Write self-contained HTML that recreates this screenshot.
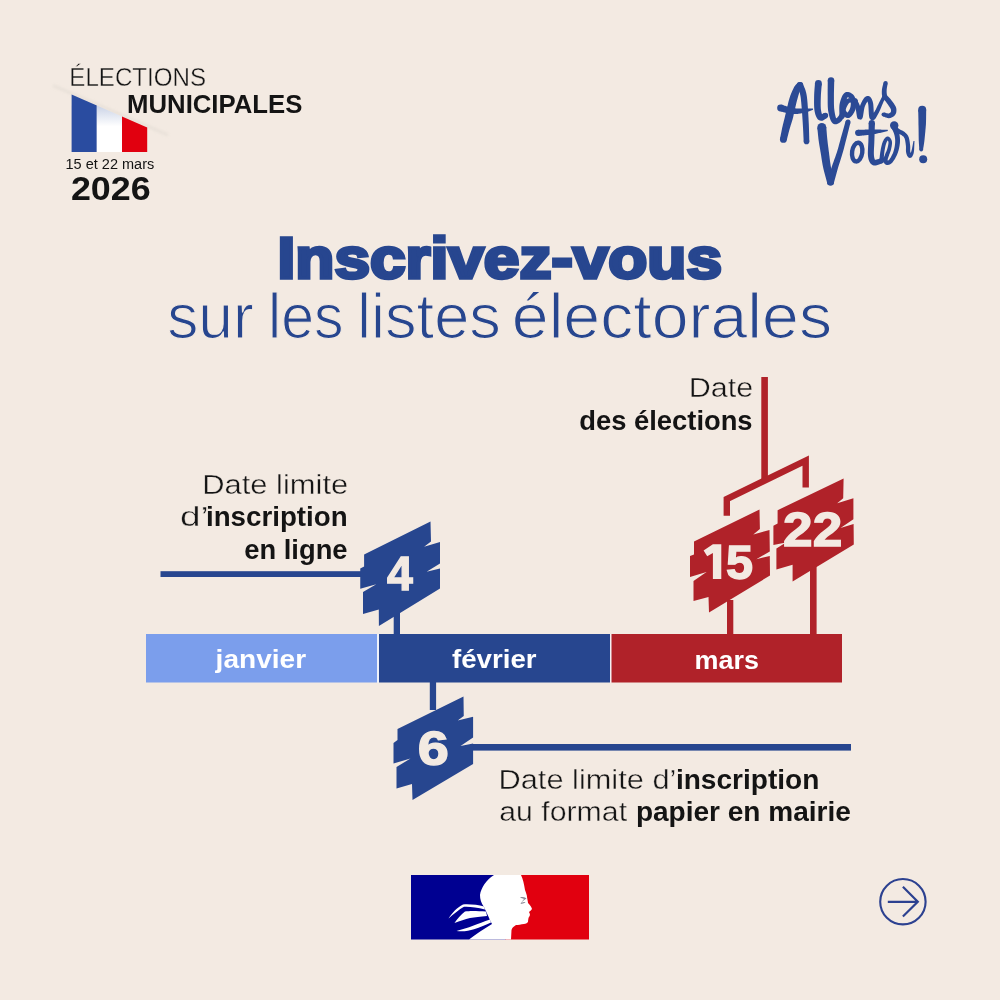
<!DOCTYPE html>
<html><head><meta charset="utf-8">
<style>
html,body{margin:0;padding:0;width:1000px;height:1000px;overflow:hidden;background:#f3eae2;}
svg{position:absolute;left:0;top:0;will-change:transform;}
text{font-family:"Liberation Sans",sans-serif;}
</style></head>
<body>
<svg width="1000" height="1000" viewBox="0 0 1000 1000">
<rect x="0" y="0" width="1000" height="1000" fill="#f3eae2"/>
<!-- flag -->
<defs><filter id="blur1" x="-20%" y="-50%" width="140%" height="200%"><feGaussianBlur stdDeviation="1.6"/></filter>
<linearGradient id="wg" x1="0" y1="0" x2="0" y2="1"><stop offset="0" stop-color="#c9d2e6"/><stop offset="0.45" stop-color="#ffffff"/><stop offset="1" stop-color="#ffffff"/></linearGradient></defs>
<line x1="53" y1="85.5" x2="168" y2="135" stroke="#d9d3cb" stroke-width="2.2" filter="url(#blur1)" opacity="0.55"/>
<polygon points="71.6,94.4 96.8,105.4 96.8,152 71.6,152" fill="#2a4ca0"/>
<polygon points="96.8,105.4 122,116.4 122,152 96.8,152" fill="url(#wg)"/>
<polygon points="122,116.4 147.2,127.4 147.2,152 122,152" fill="#e1000f"/>

<!-- lines -->
<rect x="160.5" y="571.2" width="205" height="5.8" fill="#27468f"/>
<rect x="470" y="744" width="381" height="6.6" fill="#27468f"/>
<rect x="393.7" y="600" width="6.3" height="36" fill="#27468f"/>
<rect x="429.8" y="680" width="6.3" height="30" fill="#27468f"/>
<rect x="727" y="600" width="6.3" height="36" fill="#b02229"/>
<rect x="810" y="560" width="6.6" height="76" fill="#b02229"/>
<rect x="761.3" y="377" width="6.6" height="104" fill="#b02229"/>
<polyline points="726.8,515.8 726.8,499 805.7,460.5 805.7,487.6" fill="none" stroke="#b02229" stroke-width="6.4" stroke-linejoin="miter"/>

<!-- bar -->
<rect x="376.5" y="634" width="3" height="48.5" fill="#eef1f8"/>
<rect x="609.5" y="634" width="2.5" height="48.5" fill="#f4f0f2"/>
<rect x="146" y="634" width="231" height="48.5" fill="#7b9eec"/>
<rect x="379" y="634" width="231" height="48.5" fill="#27468f"/>
<rect x="611.5" y="634" width="230.5" height="48.5" fill="#b02229"/>

<!-- signs -->
<polygon fill="#27468f" points="364.1,554.5 430.5,521.5 431,541.5 424.1,546.7 440,542 440,563.5 426.6,571.8 440,568.5 440,588.6 378.9,625.9 378.8,609.5 363,614 363,592 376.3,584.3 360.25,588.8 360.25,568.5 364.1,566.4"/>
<polygon fill="#27468f" points="397.5,729 463.5,696.5 463.75,716 457.7,720.6 473.1,716.8 473.1,737.4 460.5,745.9 473.1,743.5 473.1,764 412.5,800 412,784 396.5,788.5 396.5,767 410.5,758.5 393.5,763.5 393.5,743 397.5,740"/>
<polygon fill="#b02229" points="694,541.5 759.5,509.5 759.9,529 753.3,534.4 769.5,530 769.8,551.5 756.3,559.2 769.8,556 770,575.5 709,612.5 708.5,597 693.5,601 693.5,581 706.5,572 690,577 690,556 694,554.5"/>
<polygon fill="#b02229" points="777.6,510.2 843.6,478.4 843.2,498.3 837.2,503.2 853.4,498.3 853.4,519.2 840.5,528 853.6,524.1 853.8,544.4 792.6,581.6 792.6,564.8 776.4,569.6 776.4,548.6 786,542.6 773.4,545 773.4,525.8 777.6,523.4"/>

<path fill="#f3eae2" d="M712.9,544.2 L721.3,544.2 L721.3,579 L712.9,579 L712.9,553 L707.2,556.2 L703.6,550.5 Z"/>
<!-- marianne -->
<rect x="411" y="875" width="95" height="64.5" fill="#000091"/>
<rect x="505" y="875" width="84" height="64.5" fill="#e1000f"/>
<path fill="#ffffff" d="M494,875 L521,875 C523,879 524,884 525,890 C526,893 527,895 527,897 C527.5,900 528,902 528,903 C530,905 531.5,907 532,909 C531,910.5 529.5,911.5 529,912 C529.5,913 530,914 530,915 C529.5,916.5 528.5,917.5 528.5,918 C528.2,919.5 528,921 528,922 C527,923 525.5,924 524,924 C521,924.5 518,925 516,925 C513.5,926.5 512,928 511.5,930 L511,939.5 L469,939.5 C476,934 484,929 492,924 C489,918 486,911 484,907 C481,903 480,899 480,895 C481,888 486,880 494,875 Z"/>
<path fill="#ffffff" d="M484,906.5 C478,905 470,904 463,904.5 C457,907.5 452,913 448.5,918.5 C454,914 459,909.5 464,906.8 C470,906.5 477,907.5 485,909.5 Z"/>
<path fill="#ffffff" d="M486,911.5 C478,911 470,910.5 465,911.5 C461,914.5 457,919 454.5,923 C460,921 465,919 470,918 C475,917 480,917 487,916 Z"/>
<path fill="#ffffff" d="M490,919.5 C484,921.5 478,924 473,925.8 C468,927.8 462,929.5 456.5,931 C463,931.8 469,930.8 474,929.2 C480,927.2 486,925 491,922.5 Z"/>
<path fill="#8a8a96" d="M520,897 C522.5,896.8 525,897.2 526.5,898.5 C525,899.5 523,900.5 521.5,902.8 C523,902 524.5,901.8 525.5,902.2 C524,903.2 522,903.8 520.5,904 C521.5,902 523,900 524,899 C522.5,898.5 521,898 520,897 Z"/>
<!-- arrow -->
<circle cx="902.9" cy="901.7" r="22.7" fill="none" stroke="#2c4190" stroke-width="2.1"/>
<path d="M887.8 901.8 H917.5 M902.9 886.8 L917.8 901.8 L902.9 916.5" fill="none" stroke="#2c4190" stroke-width="2.2"/>

<g fill="#2b4a95" stroke="none">
<path d="M786.75,140.16 L786.99,139.21 L787.23,138.25 L787.47,137.30 L787.71,136.35 L787.95,135.40 L788.18,134.46 L788.42,133.52 L788.66,132.58 L788.90,131.65 L789.14,130.73 L789.39,129.82 L789.64,128.91 L789.89,128.04 L790.13,127.21 L790.38,126.39 L790.64,125.59 L790.89,124.78 L791.16,123.95 L791.43,123.10 L791.71,122.20 L792.00,121.25 L792.30,120.24 L792.61,119.16 L792.94,117.99 L793.25,116.70 L793.57,115.30 L793.90,113.83 L794.25,112.29 L794.59,110.71 L794.95,109.11 L795.30,107.53 L795.66,105.97 L796.01,104.48 L796.35,103.06 L796.67,101.75 L796.99,100.57 L797.27,99.47 L797.55,98.42 L797.82,97.41 L798.10,96.45 L798.37,95.54 L798.63,94.68 L798.90,93.87 L799.15,93.10 L799.40,92.37 L799.65,91.69 L799.88,91.05 L800.10,90.48 L800.30,90.02 L800.46,89.68 L800.60,89.40 L800.73,89.18 L800.85,88.98 L800.98,88.79 L801.14,88.59 L801.34,88.35 L801.58,88.06 L801.87,87.72 L802.18,87.32 L802.45,86.94 L797.55,83.06 L797.33,83.30 L797.15,83.46 L796.95,83.63 L796.72,83.84 L796.44,84.09 L796.12,84.39 L795.76,84.76 L795.39,85.19 L795.01,85.68 L794.63,86.24 L794.26,86.86 L793.90,87.52 L793.54,88.20 L793.19,88.89 L792.83,89.64 L792.46,90.42 L792.09,91.25 L791.72,92.13 L791.34,93.06 L790.96,94.03 L790.57,95.05 L790.19,96.12 L789.80,97.24 L789.41,98.43 L789.05,99.72 L788.67,101.11 L788.29,102.59 L787.91,104.14 L787.53,105.72 L787.15,107.32 L786.78,108.92 L786.41,110.49 L786.05,112.01 L785.70,113.45 L785.37,114.79 L785.06,116.01 L784.80,117.13 L784.55,118.17 L784.31,119.14 L784.08,120.07 L783.86,120.95 L783.64,121.81 L783.43,122.65 L783.22,123.50 L783.00,124.35 L782.79,125.23 L782.58,126.14 L782.36,127.09 L782.15,128.06 L781.95,129.02 L781.75,129.99 L781.55,130.96 L781.36,131.93 L781.17,132.89 L780.98,133.86 L780.79,134.82 L780.61,135.78 L780.42,136.74 L780.24,137.69 L780.05,138.64 Z"/><circle cx="783.40" cy="139.40" r="3.44"/><circle cx="800.00" cy="85.00" r="3.12"/>
<path d="M797.08,86.13 L797.35,86.81 L797.63,87.50 L797.91,88.17 L798.18,88.81 L798.45,89.45 L798.71,90.06 L798.96,90.67 L799.19,91.28 L799.41,91.88 L799.61,92.49 L799.80,93.11 L799.97,93.76 L800.13,94.43 L800.27,95.07 L800.39,95.69 L800.51,96.31 L800.61,96.94 L800.70,97.61 L800.80,98.33 L800.89,99.12 L800.98,100.00 L801.07,100.97 L801.18,102.06 L801.29,103.28 L801.42,104.63 L801.55,106.14 L801.68,107.79 L801.82,109.53 L801.95,111.35 L802.09,113.23 L802.22,115.13 L802.35,117.04 L802.47,118.92 L802.59,120.75 L802.70,122.51 L802.80,124.16 L802.90,125.73 L802.99,127.26 L803.07,128.75 L803.15,130.21 L803.22,131.65 L803.29,133.07 L803.35,134.49 L803.42,135.90 L803.48,137.31 L803.55,138.73 L803.62,140.16 L803.69,141.61 L809.31,141.39 L809.27,139.95 L809.23,138.52 L809.20,137.11 L809.17,135.70 L809.13,134.28 L809.10,132.86 L809.06,131.43 L809.02,129.97 L808.97,128.49 L808.92,126.98 L808.86,125.43 L808.80,123.84 L808.71,122.17 L808.62,120.40 L808.53,118.56 L808.42,116.67 L808.31,114.75 L808.20,112.83 L808.08,110.94 L807.97,109.10 L807.85,107.33 L807.74,105.66 L807.62,104.12 L807.51,102.72 L807.40,101.49 L807.30,100.38 L807.20,99.36 L807.10,98.44 L807.00,97.58 L806.90,96.77 L806.79,96.00 L806.67,95.25 L806.53,94.51 L806.38,93.78 L806.22,93.03 L806.03,92.24 L805.81,91.42 L805.57,90.61 L805.31,89.83 L805.05,89.09 L804.77,88.37 L804.49,87.69 L804.21,87.02 L803.94,86.37 L803.67,85.74 L803.41,85.12 L803.16,84.51 L802.92,83.87 Z"/><circle cx="800.00" cy="85.00" r="3.12"/><circle cx="806.50" cy="141.50" r="2.81"/>
<path d="M779.64,111.20 L780.25,111.35 L780.85,111.50 L781.45,111.66 L782.06,111.82 L782.68,111.98 L783.32,112.15 L783.96,112.31 L784.61,112.47 L785.27,112.63 L785.95,112.78 L786.64,112.92 L787.33,113.05 L788.00,113.17 L788.66,113.28 L789.33,113.39 L790.01,113.50 L790.71,113.61 L791.41,113.70 L792.13,113.79 L792.86,113.87 L793.61,113.93 L794.36,113.98 L795.14,114.00 L795.92,114.01 L796.72,113.97 L797.52,113.91 L798.33,113.83 L799.13,113.73 L799.93,113.62 L800.73,113.50 L801.52,113.37 L802.30,113.23 L803.07,113.09 L803.82,112.95 L804.55,112.81 L805.26,112.67 L805.97,112.45 L806.66,112.23 L807.34,111.99 L808.01,111.76 L808.66,111.52 L809.30,111.27 L809.94,111.03 L810.57,110.78 L811.20,110.54 L811.83,110.30 L812.46,110.05 L813.10,109.82 L812.90,108.58 L812.21,108.57 L811.53,108.55 L810.85,108.54 L810.17,108.53 L809.49,108.52 L808.82,108.50 L808.15,108.49 L807.47,108.47 L806.80,108.44 L806.12,108.41 L805.43,108.37 L804.74,108.33 L804.02,108.36 L803.28,108.40 L802.53,108.43 L801.77,108.47 L801.02,108.50 L800.27,108.52 L799.53,108.53 L798.79,108.53 L798.08,108.52 L797.39,108.49 L796.72,108.45 L796.08,108.39 L795.46,108.34 L794.84,108.27 L794.22,108.18 L793.61,108.08 L793.00,107.97 L792.39,107.85 L791.77,107.71 L791.16,107.57 L790.54,107.42 L789.92,107.27 L789.29,107.11 L788.67,106.95 L788.08,106.79 L787.51,106.62 L786.94,106.45 L786.37,106.26 L785.79,106.07 L785.21,105.86 L784.62,105.66 L784.02,105.45 L783.42,105.23 L782.80,105.02 L782.18,104.80 L781.56,104.60 Z"/><circle cx="780.60" cy="107.90" r="3.44"/>
<path d="M814.97,83.14 L814.90,84.18 L814.82,85.20 L814.74,86.22 L814.66,87.25 L814.57,88.29 L814.49,89.33 L814.41,90.39 L814.33,91.46 L814.26,92.54 L814.21,93.64 L814.16,94.77 L814.13,95.90 L814.11,97.05 L814.09,98.25 L814.07,99.49 L814.06,100.75 L814.05,102.04 L814.06,103.32 L814.07,104.60 L814.11,105.85 L814.16,107.07 L814.24,108.25 L814.34,109.38 L814.48,110.44 L814.64,111.42 L814.82,112.37 L815.03,113.28 L815.27,114.17 L815.52,115.02 L815.81,115.83 L816.13,116.62 L816.49,117.36 L816.89,118.08 L817.37,118.76 L817.95,119.42 L818.73,120.08 L819.87,120.62 L821.13,120.80 L822.20,120.67 L823.05,120.39 L823.74,120.05 L824.33,119.69 L824.84,119.35 L825.29,119.02 L825.68,118.73 L826.01,118.49 L826.27,118.32 L826.56,118.16 L824.24,113.04 L823.70,113.26 L823.10,113.56 L822.57,113.86 L822.09,114.14 L821.67,114.39 L821.31,114.58 L821.04,114.70 L820.90,114.74 L820.95,114.70 L821.26,114.66 L821.80,114.73 L822.27,114.92 L822.42,115.03 L822.39,114.97 L822.29,114.80 L822.14,114.51 L821.98,114.12 L821.80,113.65 L821.63,113.11 L821.46,112.49 L821.30,111.82 L821.16,111.10 L821.03,110.35 L820.92,109.56 L820.83,108.73 L820.77,107.80 L820.72,106.77 L820.69,105.67 L820.68,104.51 L820.68,103.31 L820.70,102.09 L820.72,100.85 L820.75,99.62 L820.79,98.41 L820.83,97.23 L820.87,96.10 L820.91,95.03 L820.97,93.99 L821.03,92.96 L821.11,91.94 L821.19,90.92 L821.28,89.89 L821.37,88.87 L821.46,87.85 L821.56,86.81 L821.65,85.77 L821.74,84.71 L821.83,83.66 Z"/><circle cx="818.40" cy="83.40" r="3.44"/><circle cx="825.40" cy="115.60" r="2.81"/>
<path d="M827.75,80.35 L827.74,81.66 L827.73,82.96 L827.72,84.28 L827.70,85.60 L827.69,86.92 L827.68,88.24 L827.66,89.56 L827.66,90.88 L827.65,92.18 L827.65,93.48 L827.66,94.76 L827.68,96.01 L827.68,97.24 L827.68,98.46 L827.68,99.69 L827.68,100.92 L827.68,102.14 L827.69,103.36 L827.71,104.57 L827.74,105.77 L827.80,106.95 L827.87,108.12 L827.97,109.27 L828.10,110.40 L828.28,111.50 L828.47,112.60 L828.70,113.69 L828.94,114.78 L829.19,115.84 L829.47,116.88 L829.76,117.87 L830.07,118.82 L830.40,119.71 L830.75,120.54 L831.14,121.32 L831.59,122.07 L832.17,122.80 L832.90,123.45 L833.77,123.95 L834.71,124.23 L835.61,124.29 L836.41,124.21 L837.10,124.03 L837.69,123.80 L838.19,123.56 L838.63,123.32 L839.01,123.10 L839.43,122.85 L839.95,122.49 L840.48,122.05 L840.94,121.60 L841.35,121.14 L841.74,120.67 L842.11,120.20 L842.45,119.74 L842.79,119.29 L843.10,118.85 L843.41,118.45 L843.69,118.07 L843.99,117.71 L840.01,114.29 L839.64,114.70 L839.26,115.16 L838.90,115.61 L838.55,116.05 L838.21,116.47 L837.89,116.86 L837.59,117.22 L837.31,117.53 L837.06,117.78 L836.86,117.97 L836.71,118.07 L836.57,118.15 L836.31,118.28 L836.01,118.44 L835.75,118.56 L835.56,118.64 L835.45,118.67 L835.44,118.67 L835.55,118.65 L835.78,118.66 L836.06,118.74 L836.29,118.87 L836.41,118.96 L836.41,118.93 L836.29,118.68 L836.12,118.25 L835.92,117.68 L835.70,117.00 L835.49,116.22 L835.28,115.37 L835.08,114.46 L834.89,113.52 L834.71,112.54 L834.55,111.55 L834.41,110.57 L834.30,109.60 L834.19,108.65 L834.10,107.65 L834.04,106.61 L833.99,105.54 L833.96,104.42 L833.94,103.28 L833.93,102.11 L833.92,100.91 L833.93,99.70 L833.93,98.47 L833.93,97.23 L833.92,95.99 L833.93,94.75 L833.94,93.51 L833.96,92.24 L833.99,90.96 L834.02,89.66 L834.05,88.36 L834.08,87.04 L834.12,85.72 L834.15,84.40 L834.19,83.07 L834.22,81.75 L834.25,80.45 Z"/><circle cx="831.00" cy="80.40" r="3.25"/><circle cx="842.00" cy="116.00" r="2.62"/>
<path d="M844.62,116.06 L844.66,115.02 L844.67,113.96 L844.67,112.90 L844.67,111.86 L844.66,110.83 L844.66,109.82 L844.68,108.83 L844.71,107.89 L844.76,106.98 L844.84,106.11 L844.95,105.31 L845.10,104.54 L845.27,103.73 L845.47,102.86 L845.71,101.98 L845.97,101.10 L846.24,100.26 L846.54,99.46 L846.84,98.73 L847.14,98.09 L847.42,97.58 L847.65,97.21 L847.79,97.04 L847.73,97.06 L847.54,97.13 L847.46,97.14 L847.55,97.14 L847.76,97.18 L848.07,97.28 L848.43,97.44 L848.82,97.67 L849.20,97.94 L849.55,98.24 L849.85,98.55 L850.10,98.85 L850.26,99.12 L850.38,99.46 L850.51,99.95 L850.63,100.57 L850.73,101.27 L850.79,102.04 L850.82,102.85 L850.82,103.67 L850.78,104.50 L850.71,105.30 L850.61,106.05 L850.49,106.73 L850.34,107.31 L850.18,107.88 L849.95,108.52 L849.66,109.21 L849.32,109.91 L848.95,110.60 L848.56,111.25 L848.17,111.84 L847.79,112.34 L847.46,112.73 L847.22,112.96 L847.16,113.02 L847.48,112.93 L847.94,112.94 L848.08,113.00 L847.97,112.97 L847.71,112.82 L847.38,112.57 L847.03,112.22 L846.69,111.82 L846.37,111.39 L846.12,110.96 L845.92,110.56 L845.81,110.23 L845.75,109.99 L845.78,109.66 L845.88,109.13 L846.07,108.48 L846.33,107.74 L846.66,106.97 L847.03,106.18 L847.44,105.40 L847.87,104.67 L848.31,104.01 L848.73,103.45 L849.11,103.03 L849.38,102.78 L849.55,102.69 L849.73,102.65 L849.96,102.62 L850.27,102.61 L850.68,102.64 L851.16,102.71 L851.71,102.81 L852.31,102.93 L852.97,103.05 L853.69,103.17 L854.45,103.26 L855.15,103.30 L855.25,98.30 L854.73,98.31 L854.25,98.29 L853.70,98.23 L853.09,98.16 L852.42,98.07 L851.70,97.99 L850.94,97.94 L850.13,97.95 L849.26,98.05 L848.36,98.27 L847.46,98.66 L846.62,99.22 L845.89,99.88 L845.25,100.61 L844.64,101.41 L844.06,102.28 L843.52,103.20 L843.01,104.16 L842.54,105.14 L842.13,106.12 L841.79,107.10 L841.51,108.07 L841.32,109.03 L841.25,110.01 L841.31,111.02 L841.52,111.98 L841.85,112.89 L842.26,113.76 L842.74,114.57 L843.28,115.34 L843.88,116.05 L844.55,116.69 L845.29,117.27 L846.15,117.75 L847.22,118.08 L848.52,118.07 L849.67,117.66 L850.52,117.10 L851.23,116.47 L851.88,115.77 L852.49,115.01 L853.06,114.19 L853.61,113.32 L854.12,112.43 L854.59,111.51 L855.01,110.57 L855.37,109.63 L855.66,108.69 L855.85,107.73 L855.99,106.75 L856.07,105.74 L856.11,104.70 L856.11,103.66 L856.07,102.62 L855.98,101.58 L855.84,100.57 L855.66,99.59 L855.43,98.65 L855.13,97.75 L854.74,96.88 L854.27,96.06 L853.71,95.31 L853.09,94.62 L852.41,94.00 L851.68,93.45 L850.91,92.96 L850.08,92.54 L849.21,92.22 L848.27,92.00 L847.26,91.93 L846.16,92.09 L845.07,92.54 L844.17,93.21 L843.49,93.95 L842.92,94.75 L842.42,95.60 L841.97,96.50 L841.55,97.44 L841.17,98.43 L840.81,99.43 L840.49,100.45 L840.20,101.46 L839.93,102.47 L839.70,103.46 L839.53,104.50 L839.41,105.56 L839.33,106.63 L839.29,107.70 L839.28,108.77 L839.29,109.83 L839.31,110.89 L839.33,111.94 L839.36,112.97 L839.38,113.98 L839.39,114.96 L839.38,115.94 Z"/><circle cx="842.00" cy="116.00" r="2.62"/><circle cx="855.20" cy="100.80" r="2.50"/>
<path d="M853.11,101.63 L853.33,102.25 L853.56,102.86 L853.79,103.45 L854.02,104.04 L854.24,104.61 L854.46,105.18 L854.67,105.74 L854.87,106.31 L855.07,106.89 L855.25,107.47 L855.43,108.07 L855.59,108.66 L855.75,109.32 L855.92,110.13 L856.08,111.08 L856.24,112.11 L856.39,113.18 L856.55,114.24 L856.71,115.25 L856.87,116.20 L857.06,117.07 L857.31,117.90 L857.97,119.02 L861.06,119.66 L862.42,118.26 L862.75,117.34 L862.95,116.44 L863.13,115.43 L863.31,114.33 L863.49,113.15 L863.67,111.93 L863.87,110.71 L864.07,109.53 L864.28,108.46 L864.51,107.54 L864.74,106.80 L865.01,106.10 L865.34,105.34 L865.70,104.57 L866.07,103.82 L866.45,103.09 L866.84,102.42 L867.22,101.81 L867.58,101.29 L867.89,100.88 L868.13,100.62 L868.23,100.53 L868.08,100.61 L867.73,100.70 L867.35,100.69 L867.07,100.60 L866.94,100.53 L866.95,100.56 L867.04,100.70 L867.18,100.95 L867.35,101.31 L867.54,101.77 L867.72,102.31 L867.90,102.92 L868.06,103.56 L868.21,104.31 L868.33,105.32 L868.44,106.57 L868.53,107.97 L868.60,109.45 L868.68,110.98 L868.76,112.49 L868.85,113.93 L868.97,115.28 L869.13,116.51 L869.37,117.63 L869.85,118.78 L871.04,119.92 L872.86,120.26 L874.16,119.77 L874.94,119.13 L875.50,118.46 L875.98,117.78 L876.43,117.06 L876.85,116.32 L877.25,115.58 L877.63,114.87 L877.98,114.21 L878.32,113.60 L878.68,112.96 L879.04,112.25 L879.39,111.51 L879.74,110.76 L880.07,109.99 L880.39,109.22 L880.71,108.44 L881.02,107.67 L881.32,106.91 L881.62,106.17 L881.91,105.46 L882.20,104.79 L882.49,104.13 L882.77,103.47 L883.05,102.82 L883.33,102.18 L883.60,101.55 L883.87,100.93 L884.13,100.30 L884.40,99.68 L884.67,99.06 L884.93,98.44 L885.20,97.82 L885.47,97.19 L882.53,95.81 L882.22,96.43 L881.91,97.03 L881.61,97.64 L881.30,98.24 L881.00,98.84 L880.70,99.45 L880.39,100.06 L880.08,100.67 L879.77,101.29 L879.45,101.92 L879.13,102.55 L878.80,103.21 L878.46,103.90 L878.11,104.63 L877.77,105.37 L877.42,106.11 L877.08,106.86 L876.73,107.60 L876.39,108.32 L876.04,109.02 L875.70,109.68 L875.36,110.30 L875.03,110.87 L874.68,111.40 L874.28,111.99 L873.86,112.65 L873.43,113.33 L873.00,113.98 L872.59,114.58 L872.21,115.10 L871.88,115.49 L871.66,115.69 L871.69,115.64 L872.31,115.41 L873.50,115.64 L874.15,116.22 L874.18,116.25 L874.06,115.69 L873.94,114.75 L873.84,113.56 L873.75,112.19 L873.67,110.72 L873.60,109.20 L873.52,107.68 L873.42,106.20 L873.31,104.81 L873.15,103.54 L872.94,102.44 L872.68,101.54 L872.42,100.73 L872.13,99.97 L871.82,99.25 L871.46,98.57 L871.06,97.94 L870.58,97.34 L870.00,96.79 L869.26,96.32 L868.35,96.00 L867.33,95.95 L866.32,96.19 L865.48,96.66 L864.81,97.22 L864.25,97.83 L863.74,98.49 L863.24,99.21 L862.76,99.98 L862.29,100.80 L861.84,101.65 L861.41,102.52 L861.00,103.41 L860.62,104.29 L860.26,105.20 L859.92,106.23 L859.62,107.38 L859.35,108.61 L859.10,109.87 L858.88,111.14 L858.67,112.38 L858.48,113.54 L858.29,114.57 L858.12,115.41 L857.98,115.98 L857.95,116.07 L858.94,115.14 L861.67,115.66 L861.98,116.12 L861.91,115.86 L861.78,115.25 L861.64,114.44 L861.49,113.49 L861.34,112.45 L861.18,111.37 L861.01,110.28 L860.83,109.23 L860.63,108.23 L860.41,107.34 L860.16,106.57 L859.90,105.87 L859.64,105.21 L859.38,104.56 L859.11,103.94 L858.84,103.35 L858.57,102.77 L858.31,102.20 L858.05,101.64 L857.79,101.09 L857.54,100.54 L857.29,99.97 Z"/><circle cx="855.20" cy="100.80" r="2.25"/><circle cx="884.00" cy="96.50" r="1.62"/>
<path d="M883.51,82.59 L883.38,83.16 L883.24,83.72 L883.10,84.30 L882.94,84.88 L882.79,85.48 L882.64,86.08 L882.49,86.69 L882.35,87.31 L882.22,87.94 L882.10,88.57 L882.00,89.21 L881.93,89.84 L881.89,90.44 L881.85,91.03 L881.83,91.63 L881.82,92.23 L881.82,92.83 L881.84,93.44 L881.87,94.04 L881.93,94.65 L882.01,95.25 L882.12,95.86 L882.27,96.46 L882.46,97.07 L882.70,97.69 L883.01,98.27 L883.34,98.80 L883.68,99.27 L884.03,99.69 L884.36,100.06 L884.69,100.40 L884.98,100.72 L885.26,101.00 L885.50,101.28 L885.72,101.53 L885.93,101.82 L886.19,102.17 L886.48,102.57 L886.77,102.97 L887.07,103.38 L887.37,103.79 L887.66,104.20 L887.95,104.61 L888.23,105.01 L888.49,105.40 L888.74,105.78 L888.97,106.14 L889.19,106.50 L889.43,106.86 L889.67,107.23 L889.89,107.56 L890.09,107.87 L890.28,108.16 L890.43,108.42 L890.57,108.65 L890.67,108.86 L890.76,109.04 L890.82,109.21 L890.86,109.35 L890.90,109.50 L890.94,109.71 L890.98,109.96 L891.00,110.22 L891.02,110.49 L891.02,110.75 L891.01,111.01 L890.99,111.24 L890.96,111.45 L890.92,111.63 L890.88,111.78 L890.85,111.87 L890.82,111.94 L890.77,112.04 L890.67,112.19 L890.54,112.35 L890.38,112.51 L890.19,112.68 L889.99,112.84 L889.78,112.98 L889.56,113.12 L889.34,113.23 L889.13,113.32 L888.93,113.39 L888.77,113.44 L888.63,113.47 L888.43,113.49 L888.16,113.48 L887.83,113.43 L887.45,113.36 L887.02,113.26 L886.57,113.14 L886.09,113.00 L885.59,112.86 L885.08,112.72 L884.54,112.58 L884.04,112.47 L882.96,116.33 L883.38,116.48 L883.79,116.64 L884.23,116.82 L884.68,117.01 L885.16,117.21 L885.66,117.42 L886.18,117.61 L886.73,117.80 L887.30,117.96 L887.91,118.08 L888.56,118.16 L889.23,118.16 L889.86,118.09 L890.46,117.97 L891.03,117.80 L891.58,117.60 L892.11,117.36 L892.62,117.09 L893.11,116.79 L893.57,116.47 L894.01,116.11 L894.43,115.73 L894.82,115.32 L895.18,114.86 L895.51,114.33 L895.78,113.78 L895.99,113.23 L896.15,112.68 L896.27,112.13 L896.35,111.59 L896.41,111.06 L896.43,110.53 L896.44,110.01 L896.42,109.50 L896.37,109.00 L896.30,108.50 L896.18,107.96 L896.03,107.43 L895.84,106.94 L895.63,106.47 L895.41,106.04 L895.18,105.63 L894.95,105.25 L894.71,104.88 L894.48,104.53 L894.26,104.19 L894.04,103.86 L893.81,103.50 L893.54,103.11 L893.25,102.69 L892.94,102.27 L892.62,101.85 L892.30,101.42 L891.98,101.00 L891.65,100.58 L891.32,100.16 L891.00,99.75 L890.69,99.36 L890.38,98.98 L890.07,98.58 L889.71,98.16 L889.33,97.75 L888.97,97.39 L888.64,97.06 L888.33,96.77 L888.06,96.51 L887.83,96.28 L887.63,96.07 L887.47,95.88 L887.34,95.70 L887.24,95.53 L887.14,95.33 L887.05,95.07 L886.96,94.75 L886.87,94.39 L886.80,94.00 L886.75,93.58 L886.70,93.14 L886.67,92.67 L886.65,92.19 L886.64,91.69 L886.64,91.18 L886.65,90.66 L886.67,90.16 L886.69,89.68 L886.73,89.19 L886.78,88.68 L886.85,88.14 L886.94,87.59 L887.04,87.02 L887.14,86.44 L887.26,85.84 L887.37,85.24 L887.48,84.63 L887.59,84.01 L887.69,83.41 Z"/><circle cx="885.60" cy="83.00" r="2.12"/><circle cx="883.50" cy="114.40" r="2.00"/>
<path d="M817.32,127.92 L817.43,128.96 L817.53,129.99 L817.63,131.02 L817.74,132.06 L817.84,133.10 L817.94,134.15 L818.05,135.20 L818.16,136.26 L818.27,137.32 L818.39,138.38 L818.52,139.45 L818.66,140.52 L818.81,141.58 L818.96,142.63 L819.13,143.67 L819.29,144.70 L819.46,145.72 L819.63,146.75 L819.81,147.78 L819.99,148.82 L820.17,149.86 L820.35,150.92 L820.53,152.00 L820.72,153.10 L820.90,154.22 L821.08,155.36 L821.27,156.53 L821.45,157.72 L821.64,158.93 L821.83,160.16 L822.03,161.40 L822.24,162.65 L822.46,163.92 L822.69,165.19 L822.94,166.46 L823.20,167.74 L823.48,169.01 L823.78,170.28 L824.10,171.55 L824.42,172.81 L824.75,174.08 L825.09,175.34 L825.42,176.60 L825.77,177.85 L826.10,179.09 L826.44,180.34 L826.77,181.57 L827.09,182.81 L833.91,181.19 L833.64,179.93 L833.36,178.65 L833.08,177.38 L832.81,176.12 L832.53,174.85 L832.25,173.60 L831.98,172.35 L831.72,171.11 L831.47,169.88 L831.23,168.66 L831.01,167.46 L830.80,166.26 L830.60,165.07 L830.41,163.87 L830.24,162.67 L830.07,161.46 L829.91,160.24 L829.75,159.03 L829.60,157.82 L829.46,156.61 L829.32,155.42 L829.17,154.23 L829.03,153.06 L828.88,151.90 L828.73,150.77 L828.59,149.68 L828.45,148.60 L828.31,147.55 L828.17,146.52 L828.04,145.50 L827.91,144.49 L827.79,143.49 L827.67,142.49 L827.56,141.49 L827.45,140.49 L827.34,139.48 L827.24,138.47 L827.14,137.45 L827.04,136.43 L826.95,135.41 L826.87,134.38 L826.78,133.35 L826.70,132.32 L826.62,131.28 L826.54,130.23 L826.45,129.18 L826.37,128.13 L826.28,127.08 Z"/><circle cx="821.80" cy="127.50" r="4.50"/><circle cx="830.50" cy="182.00" r="3.50"/>
<path d="M833.85,183.00 L834.20,181.74 L834.54,180.47 L834.88,179.20 L835.23,177.94 L835.57,176.67 L835.91,175.41 L836.25,174.15 L836.59,172.90 L836.93,171.65 L837.28,170.40 L837.63,169.17 L837.98,167.94 L838.34,166.74 L838.72,165.54 L839.09,164.34 L839.48,163.15 L839.87,161.95 L840.26,160.75 L840.65,159.55 L841.04,158.33 L841.42,157.10 L841.81,155.86 L842.18,154.60 L842.55,153.33 L842.92,152.04 L843.28,150.75 L843.64,149.44 L843.99,148.13 L844.33,146.82 L844.67,145.50 L845.00,144.19 L845.34,142.87 L845.67,141.57 L846.00,140.27 L846.33,138.99 L846.66,137.71 L846.98,136.44 L847.29,135.17 L847.61,133.91 L847.92,132.65 L848.24,131.40 L848.55,130.14 L848.86,128.89 L849.17,127.65 L849.48,126.40 L849.79,125.15 L850.10,123.90 L850.42,122.64 L845.58,121.36 L845.23,122.60 L844.88,123.84 L844.53,125.08 L844.18,126.32 L843.83,127.56 L843.48,128.79 L843.12,130.03 L842.77,131.28 L842.42,132.52 L842.06,133.77 L841.70,135.03 L841.34,136.29 L840.99,137.57 L840.64,138.86 L840.29,140.16 L839.94,141.46 L839.58,142.76 L839.23,144.06 L838.88,145.36 L838.52,146.65 L838.16,147.92 L837.79,149.19 L837.42,150.44 L837.05,151.67 L836.66,152.88 L836.25,154.08 L835.85,155.26 L835.43,156.45 L835.01,157.63 L834.58,158.81 L834.15,159.99 L833.72,161.18 L833.29,162.38 L832.86,163.59 L832.44,164.82 L832.02,166.06 L831.60,167.30 L831.18,168.54 L830.77,169.78 L830.36,171.03 L829.96,172.28 L829.56,173.53 L829.15,174.78 L828.75,176.03 L828.35,177.27 L827.95,178.52 L827.55,179.76 L827.15,181.00 Z"/><circle cx="830.50" cy="182.00" r="3.50"/><circle cx="848.00" cy="122.00" r="2.50"/>
<path d="M868.68,123.13 L868.65,124.53 L868.63,125.94 L868.61,127.35 L868.58,128.76 L868.56,130.17 L868.54,131.58 L868.52,132.98 L868.49,134.39 L868.47,135.78 L868.45,137.17 L868.42,138.56 L868.40,139.92 L868.36,141.28 L868.30,142.68 L868.22,144.12 L868.15,145.58 L868.07,147.05 L867.99,148.50 L867.93,149.93 L867.88,151.33 L867.86,152.67 L867.87,153.96 L867.92,155.19 L868.02,156.32 L868.16,157.33 L868.32,158.27 L868.51,159.15 L868.74,159.99 L869.01,160.80 L869.34,161.57 L869.73,162.31 L870.19,163.01 L870.73,163.65 L871.36,164.23 L872.05,164.72 L872.88,165.15 L873.92,165.45 L874.96,165.52 L875.90,165.44 L876.76,165.26 L877.55,165.03 L878.31,164.77 L879.03,164.49 L879.72,164.21 L880.37,163.94 L880.97,163.70 L881.52,163.51 L882.07,163.34 L880.73,158.26 L880.02,158.43 L879.26,158.65 L878.52,158.89 L877.82,159.13 L877.16,159.36 L876.54,159.56 L875.99,159.72 L875.52,159.82 L875.18,159.86 L874.99,159.86 L875.01,159.84 L875.12,159.85 L875.12,159.83 L875.06,159.77 L874.99,159.70 L874.91,159.58 L874.81,159.40 L874.69,159.14 L874.56,158.79 L874.43,158.35 L874.30,157.82 L874.18,157.19 L874.08,156.47 L873.98,155.68 L873.91,154.82 L873.87,153.82 L873.86,152.70 L873.88,151.47 L873.92,150.16 L873.98,148.79 L874.06,147.36 L874.14,145.91 L874.22,144.44 L874.29,142.96 L874.35,141.50 L874.40,140.08 L874.44,138.70 L874.49,137.32 L874.53,135.93 L874.57,134.53 L874.62,133.13 L874.66,131.72 L874.71,130.31 L874.75,128.90 L874.79,127.49 L874.84,126.08 L874.88,124.68 L874.92,123.27 Z"/><circle cx="871.80" cy="123.20" r="3.12"/><circle cx="881.40" cy="160.80" r="2.62"/>
<path d="M858.36,135.92 L858.99,135.86 L859.62,135.81 L860.24,135.75 L860.85,135.70 L861.47,135.65 L862.10,135.59 L862.74,135.53 L863.39,135.48 L864.05,135.41 L864.74,135.35 L865.45,135.28 L866.19,135.21 L866.94,135.10 L867.71,135.00 L868.50,134.89 L869.30,134.77 L870.12,134.66 L870.95,134.54 L871.79,134.42 L872.65,134.30 L873.52,134.17 L874.40,134.04 L875.30,133.91 L876.20,133.78 L877.11,133.56 L878.05,133.34 L879.00,133.12 L879.97,132.89 L880.95,132.66 L881.93,132.42 L882.92,132.19 L883.92,131.95 L884.91,131.72 L885.90,131.49 L886.89,131.25 L887.86,131.02 L887.74,129.78 L886.73,129.75 L885.72,129.72 L884.70,129.70 L883.68,129.68 L882.66,129.65 L881.64,129.63 L880.63,129.60 L879.63,129.57 L878.64,129.54 L877.68,129.51 L876.73,129.47 L875.80,129.42 L874.90,129.45 L874.00,129.48 L873.12,129.50 L872.25,129.52 L871.40,129.54 L870.55,129.56 L869.72,129.57 L868.91,129.58 L868.11,129.59 L867.33,129.59 L866.56,129.59 L865.81,129.59 L865.09,129.61 L864.40,129.63 L863.74,129.64 L863.09,129.65 L862.45,129.66 L861.82,129.66 L861.20,129.66 L860.58,129.66 L859.96,129.67 L859.33,129.67 L858.69,129.67 L858.04,129.68 Z"/><circle cx="858.20" cy="132.80" r="3.12"/>
<path d="M883.51,161.03 L883.59,160.20 L883.67,159.36 L883.74,158.52 L883.81,157.68 L883.88,156.85 L883.95,156.02 L884.02,155.21 L884.10,154.40 L884.18,153.61 L884.27,152.83 L884.36,152.07 L884.47,151.33 L884.59,150.58 L884.72,149.81 L884.85,149.05 L884.98,148.29 L885.12,147.55 L885.27,146.82 L885.42,146.12 L885.58,145.45 L885.74,144.81 L885.91,144.22 L886.08,143.67 L886.25,143.18 L886.43,142.71 L886.63,142.25 L886.83,141.80 L887.04,141.39 L887.25,141.01 L887.45,140.67 L887.64,140.39 L887.81,140.18 L887.94,140.04 L887.99,139.98 L887.93,139.99 L887.70,140.04 L887.43,140.03 L887.30,140.00 L887.32,140.01 L887.41,140.08 L887.56,140.22 L887.72,140.41 L887.89,140.65 L888.05,140.92 L888.20,141.21 L888.32,141.51 L888.41,141.80 L888.47,142.07 L888.49,142.38 L888.49,142.78 L888.46,143.25 L888.40,143.78 L888.32,144.35 L888.22,144.94 L888.10,145.56 L887.96,146.18 L887.82,146.80 L887.67,147.41 L887.52,148.00 L887.38,148.54 L887.24,149.03 L887.09,149.51 L886.92,149.98 L886.73,150.45 L886.54,150.93 L886.34,151.41 L886.13,151.89 L885.92,152.37 L885.70,152.86 L885.50,153.35 L885.29,153.85 L885.11,154.34 L884.95,154.79 L884.78,155.22 L884.60,155.66 L884.42,156.11 L884.24,156.57 L884.07,157.03 L883.90,157.49 L883.75,157.96 L883.61,158.44 L883.50,158.94 L883.41,159.46 L883.38,159.98 L883.39,160.48 L883.44,160.96 L883.53,161.42 L883.65,161.89 L883.81,162.34 L884.01,162.79 L884.25,163.23 L884.56,163.66 L884.95,164.06 L885.43,164.43 L886.02,164.73 L886.64,164.89 L887.17,164.95 L887.65,164.94 L888.14,164.89 L888.63,164.79 L889.14,164.64 L889.65,164.45 L890.16,164.20 L890.68,163.90 L891.19,163.55 L891.69,163.14 L892.17,162.68 L892.63,162.16 L893.08,161.61 L893.52,161.01 L893.96,160.36 L894.41,159.67 L894.85,158.93 L895.30,158.17 L895.73,157.37 L896.15,156.56 L896.55,155.74 L896.93,154.91 L897.29,154.09 L897.61,153.27 L897.91,152.46 L898.18,151.62 L898.44,150.78 L898.67,149.92 L898.88,149.06 L899.08,148.19 L899.26,147.33 L899.41,146.48 L899.55,145.63 L899.68,144.80 L899.78,143.99 L899.87,143.20 L899.93,142.42 L899.98,141.66 L900.00,140.91 L900.01,140.17 L899.99,139.45 L899.96,138.73 L899.91,138.02 L899.85,137.32 L899.77,136.63 L899.68,135.93 L899.57,135.24 L899.45,134.52 L899.33,133.78 L899.18,133.02 L899.01,132.28 L898.82,131.55 L898.62,130.83 L898.42,130.13 L898.21,129.43 L898.00,128.75 L897.80,128.08 L897.60,127.42 L897.42,126.78 L897.24,126.12 L891.76,127.88 L892.01,128.56 L892.28,129.25 L892.55,129.92 L892.81,130.58 L893.08,131.23 L893.33,131.87 L893.58,132.50 L893.81,133.11 L894.02,133.72 L894.22,134.31 L894.39,134.89 L894.55,135.48 L894.67,136.09 L894.78,136.70 L894.88,137.30 L894.97,137.90 L895.04,138.49 L895.10,139.08 L895.15,139.67 L895.18,140.27 L895.19,140.88 L895.19,141.50 L895.17,142.14 L895.13,142.80 L895.08,143.49 L895.00,144.22 L894.91,144.96 L894.81,145.72 L894.69,146.49 L894.55,147.27 L894.39,148.05 L894.22,148.81 L894.03,149.57 L893.83,150.32 L893.62,151.04 L893.39,151.73 L893.13,152.42 L892.84,153.14 L892.52,153.88 L892.18,154.62 L891.82,155.35 L891.45,156.07 L891.08,156.76 L890.70,157.42 L890.34,158.03 L889.98,158.58 L889.65,159.06 L889.37,159.44 L889.11,159.73 L888.86,159.96 L888.63,160.16 L888.40,160.32 L888.18,160.44 L887.98,160.54 L887.79,160.61 L887.63,160.66 L887.49,160.69 L887.38,160.70 L887.32,160.70 L887.36,160.71 L887.53,160.76 L887.71,160.84 L887.81,160.92 L887.84,160.95 L887.84,160.94 L887.81,160.89 L887.76,160.79 L887.72,160.66 L887.68,160.51 L887.65,160.34 L887.63,160.17 L887.62,160.02 L887.62,159.87 L887.64,159.67 L887.68,159.41 L887.76,159.10 L887.85,158.76 L887.97,158.37 L888.10,157.97 L888.25,157.53 L888.41,157.08 L888.57,156.61 L888.74,156.13 L888.89,155.66 L889.03,155.22 L889.18,154.79 L889.35,154.34 L889.54,153.87 L889.73,153.38 L889.93,152.87 L890.13,152.34 L890.32,151.80 L890.52,151.24 L890.70,150.66 L890.87,150.06 L891.02,149.46 L891.15,148.86 L891.29,148.24 L891.42,147.59 L891.55,146.92 L891.68,146.24 L891.79,145.54 L891.89,144.85 L891.97,144.16 L892.02,143.48 L892.03,142.82 L892.01,142.17 L891.93,141.53 L891.80,140.91 L891.61,140.32 L891.38,139.76 L891.12,139.23 L890.81,138.73 L890.48,138.26 L890.11,137.83 L889.71,137.44 L889.25,137.09 L888.72,136.79 L888.07,136.59 L887.30,136.56 L886.58,136.74 L886.02,137.03 L885.56,137.38 L885.16,137.76 L884.80,138.18 L884.46,138.63 L884.14,139.10 L883.84,139.60 L883.54,140.13 L883.27,140.68 L883.00,141.24 L882.75,141.82 L882.52,142.43 L882.29,143.09 L882.07,143.77 L881.87,144.48 L881.68,145.22 L881.49,145.98 L881.31,146.75 L881.14,147.53 L880.98,148.32 L880.82,149.10 L880.67,149.89 L880.53,150.67 L880.39,151.47 L880.26,152.29 L880.15,153.11 L880.04,153.94 L879.94,154.78 L879.84,155.61 L879.75,156.45 L879.66,157.29 L879.57,158.12 L879.48,158.94 L879.39,159.76 L879.29,160.57 Z"/><circle cx="881.40" cy="160.80" r="2.12"/><circle cx="894.50" cy="127.00" r="2.88"/>
<path d="M893.67,131.12 L894.01,131.30 L894.34,131.49 L894.68,131.69 L895.02,131.88 L895.37,132.08 L895.72,132.28 L896.07,132.48 L896.43,132.68 L896.79,132.88 L897.16,133.08 L897.53,133.27 L897.91,133.47 L898.33,133.68 L898.74,133.87 L899.14,134.03 L899.51,134.17 L899.86,134.30 L900.19,134.42 L900.49,134.54 L900.76,134.66 L901.02,134.77 L901.25,134.89 L901.47,135.02 L901.70,135.18 L901.99,135.41 L902.31,135.66 L902.60,135.90 L902.88,136.14 L903.14,136.37 L903.39,136.61 L903.62,136.86 L903.83,137.11 L904.03,137.38 L904.21,137.66 L904.38,137.97 L904.54,138.31 L904.69,138.72 L904.84,139.20 L904.98,139.75 L905.12,140.36 L905.24,141.01 L905.36,141.69 L905.47,142.38 L905.56,143.08 L905.65,143.78 L905.74,144.46 L905.82,145.12 L905.89,145.72 L905.94,146.26 L905.97,146.78 L905.98,147.31 L905.98,147.85 L905.97,148.40 L905.96,148.95 L905.94,149.51 L905.94,150.07 L905.94,150.64 L905.97,151.22 L906.02,151.80 L906.11,152.37 L906.23,152.90 L906.36,153.41 L906.51,153.93 L906.67,154.44 L906.85,154.95 L907.05,155.44 L907.27,155.91 L907.52,156.37 L907.83,156.83 L908.26,157.30 L908.94,157.76 L909.92,158.00 L910.77,157.83 L911.35,157.51 L911.78,157.14 L912.12,156.75 L912.42,156.32 L912.68,155.86 L912.92,155.37 L913.14,154.84 L913.34,154.28 L913.52,153.67 L913.69,153.03 L913.83,152.35 L913.93,151.60 L914.02,150.79 L914.09,149.92 L914.15,149.00 L914.20,148.04 L914.24,147.05 L914.28,146.03 L914.32,145.01 L914.36,143.99 L914.40,142.99 L914.45,142.01 L914.50,141.06 L913.50,140.94 L913.31,141.87 L913.12,142.84 L912.93,143.83 L912.75,144.84 L912.57,145.84 L912.38,146.83 L912.19,147.79 L912.00,148.70 L911.80,149.57 L911.60,150.35 L911.39,151.05 L911.17,151.65 L910.96,152.17 L910.74,152.65 L910.52,153.08 L910.29,153.45 L910.07,153.76 L909.86,154.01 L909.67,154.19 L909.51,154.29 L909.42,154.31 L909.43,154.24 L909.60,154.11 L910.08,154.00 L910.70,154.15 L911.02,154.35 L911.09,154.41 L911.06,154.33 L910.97,154.14 L910.87,153.88 L910.75,153.55 L910.64,153.19 L910.54,152.80 L910.44,152.39 L910.36,151.99 L910.29,151.63 L910.24,151.30 L910.21,150.94 L910.19,150.53 L910.19,150.08 L910.19,149.58 L910.21,149.05 L910.22,148.48 L910.23,147.89 L910.23,147.26 L910.21,146.62 L910.18,145.94 L910.11,145.28 L910.04,144.63 L909.96,143.95 L909.87,143.25 L909.78,142.51 L909.67,141.76 L909.55,141.00 L909.42,140.24 L909.28,139.49 L909.11,138.76 L908.93,138.04 L908.71,137.35 L908.46,136.69 L908.18,136.07 L907.87,135.50 L907.53,134.97 L907.17,134.48 L906.80,134.04 L906.42,133.64 L906.05,133.27 L905.67,132.94 L905.31,132.63 L904.97,132.35 L904.64,132.09 L904.30,131.82 L903.90,131.51 L903.48,131.22 L903.05,130.97 L902.64,130.75 L902.25,130.56 L901.87,130.39 L901.52,130.23 L901.19,130.09 L900.88,129.95 L900.60,129.81 L900.34,129.68 L900.09,129.53 L899.81,129.35 L899.51,129.15 L899.21,128.94 L898.90,128.72 L898.59,128.51 L898.28,128.28 L897.96,128.05 L897.64,127.82 L897.32,127.59 L896.99,127.35 L896.66,127.12 L896.33,126.88 Z"/><circle cx="895.00" cy="129.00" r="2.50"/>
<path d="M918.20,109.81 L918.22,110.99 L918.25,112.17 L918.28,113.33 L918.31,114.49 L918.33,115.65 L918.36,116.81 L918.39,117.97 L918.41,119.13 L918.43,120.31 L918.44,121.50 L918.45,122.70 L918.45,123.93 L918.49,125.20 L918.53,126.53 L918.56,127.91 L918.58,129.31 L918.60,130.74 L918.62,132.16 L918.63,133.57 L918.64,134.95 L918.66,136.28 L918.68,137.56 L918.70,138.77 L918.73,139.89 L918.77,140.91 L918.82,141.85 L918.86,142.72 L918.91,143.54 L918.96,144.31 L919.01,145.05 L919.07,145.77 L919.12,146.48 L919.17,147.19 L919.22,147.90 L919.28,148.65 L919.33,149.42 L923.07,149.58 L923.19,148.81 L923.30,148.08 L923.42,147.37 L923.53,146.67 L923.65,145.97 L923.76,145.26 L923.88,144.52 L923.99,143.76 L924.11,142.94 L924.23,142.07 L924.35,141.13 L924.47,140.11 L924.59,139.01 L924.71,137.82 L924.84,136.55 L924.97,135.22 L925.10,133.84 L925.23,132.43 L925.37,131.00 L925.49,129.57 L925.62,128.15 L925.73,126.75 L925.85,125.39 L925.95,124.07 L925.99,122.81 L926.03,121.56 L926.05,120.34 L926.08,119.13 L926.10,117.94 L926.11,116.77 L926.13,115.60 L926.14,114.44 L926.15,113.28 L926.17,112.13 L926.18,110.97 L926.20,109.79 Z"/><circle cx="922.20" cy="109.80" r="4.00"/><circle cx="921.20" cy="149.50" r="1.88"/>
<ellipse cx="857.2" cy="152.1" rx="5.1" ry="9.4" fill="none" stroke="#2b4a95" stroke-width="4.4" transform="rotate(8 857.2 152.1)"/>
<circle cx="923.2" cy="159.2" r="4"/>
<circle cx="894.2" cy="125.5" r="4.2"/>
</g>

<text x="69.36" y="85.7" font-size="26.2" font-weight="normal" fill="#141414" stroke="#f3eae2" stroke-width="0.4" textLength="136.66" lengthAdjust="spacingAndGlyphs">ÉLECTIONS</text>
<text x="127.03" y="112.5" font-size="26.2" font-weight="bold" fill="#141414" textLength="175.41" lengthAdjust="spacingAndGlyphs">MUNICIPALES</text>
<text x="65.56" y="169.2" font-size="14" font-weight="normal" fill="#141414" textLength="88.67" lengthAdjust="spacingAndGlyphs">15 et 22 mars</text>
<text x="70.95" y="200.4" font-size="34" font-weight="bold" fill="#141414" textLength="79.73" lengthAdjust="spacingAndGlyphs">2026</text>
<text x="277.59" y="277.9" font-size="58" font-weight="bold" fill="#27468f" stroke="#27468f" stroke-width="3.5" stroke-linejoin="miter" textLength="444.46" lengthAdjust="spacingAndGlyphs">Inscrivez-vous</text>
<text x="167.22" y="337.8" font-size="63" font-weight="normal" fill="#27468f" stroke="#f3eae2" stroke-width="1.2" textLength="86.49" lengthAdjust="spacingAndGlyphs">sur</text>
<text x="268.05" y="337.8" font-size="63" font-weight="normal" fill="#27468f" stroke="#f3eae2" stroke-width="1.2" textLength="75.54" lengthAdjust="spacingAndGlyphs">les</text>
<text x="356.99" y="337.8" font-size="63" font-weight="normal" fill="#27468f" stroke="#f3eae2" stroke-width="1.2" textLength="143.86" lengthAdjust="spacingAndGlyphs">listes</text>
<text x="511.85" y="337.8" font-size="63" font-weight="normal" fill="#27468f" stroke="#f3eae2" stroke-width="1.2" textLength="320.16" lengthAdjust="spacingAndGlyphs">électorales</text>
<text x="688.74" y="397.4" font-size="27" font-weight="normal" fill="#141414" stroke="#f3eae2" stroke-width="0.4" textLength="64.44" lengthAdjust="spacingAndGlyphs">Date</text>
<text x="579.39" y="429.7" font-size="27" font-weight="bold" fill="#141414" textLength="173.20" lengthAdjust="spacingAndGlyphs">des élections</text>
<text x="202.21" y="493.9" font-size="27" font-weight="normal" fill="#141414" stroke="#f3eae2" stroke-width="0.4" textLength="146.06" lengthAdjust="spacingAndGlyphs">Date limite</text>
<text x="180.03" y="526.2" font-size="27" font-weight="normal" fill="#141414" stroke="#f3eae2" stroke-width="0.4" textLength="28.72" lengthAdjust="spacingAndGlyphs">d’</text>
<text x="205.95" y="526.2" font-size="27" font-weight="bold" fill="#141414" textLength="141.72" lengthAdjust="spacingAndGlyphs">inscription</text>
<text x="244.29" y="559.4" font-size="27" font-weight="bold" fill="#141414" textLength="103.24" lengthAdjust="spacingAndGlyphs">en ligne</text>
<text x="215.60" y="668" font-size="26.5" font-weight="bold" fill="#ffffff" textLength="90.48" lengthAdjust="spacingAndGlyphs">janvier</text>
<text x="452.00" y="668" font-size="26.5" font-weight="bold" fill="#ffffff" textLength="84.63" lengthAdjust="spacingAndGlyphs">février</text>
<text x="694.47" y="668.5" font-size="26.5" font-weight="bold" fill="#ffffff" textLength="64.42" lengthAdjust="spacingAndGlyphs">mars</text>
<text x="498.52" y="788.8" font-size="27" font-weight="normal" fill="#141414" stroke="#f3eae2" stroke-width="0.4" textLength="177.83" lengthAdjust="spacingAndGlyphs">Date limite d’</text>
<text x="675.92" y="788.6" font-size="27" font-weight="bold" fill="#141414" textLength="143.47" lengthAdjust="spacingAndGlyphs">inscription</text>
<text x="499.28" y="821" font-size="27" font-weight="normal" fill="#141414" stroke="#f3eae2" stroke-width="0.4" textLength="127.79" lengthAdjust="spacingAndGlyphs">au format</text>
<text x="635.92" y="821.3" font-size="27" font-weight="bold" fill="#141414" textLength="214.91" lengthAdjust="spacingAndGlyphs">papier en mairie</text>
<text x="387.00" y="590.3" font-size="49" font-weight="bold" fill="#f3eae2" stroke="#f3eae2" stroke-width="1.4" stroke-linejoin="miter" textLength="25.80" lengthAdjust="spacingAndGlyphs">4</text>
<text x="417.86" y="764.6" font-size="49" font-weight="bold" fill="#f3eae2" stroke="#f3eae2" stroke-width="1.4" stroke-linejoin="miter" textLength="31.08" lengthAdjust="spacingAndGlyphs">6</text>
<text x="726.01" y="578.9" font-size="49" font-weight="bold" fill="#f3eae2" stroke="#f3eae2" stroke-width="1.4" stroke-linejoin="miter" textLength="27.06" lengthAdjust="spacingAndGlyphs">5</text>
<text x="783.12" y="545.5" font-size="49" font-weight="bold" fill="#f3eae2" stroke="#f3eae2" stroke-width="1.4" stroke-linejoin="miter" textLength="59.13" lengthAdjust="spacingAndGlyphs">22</text>
</svg>
</body></html>
